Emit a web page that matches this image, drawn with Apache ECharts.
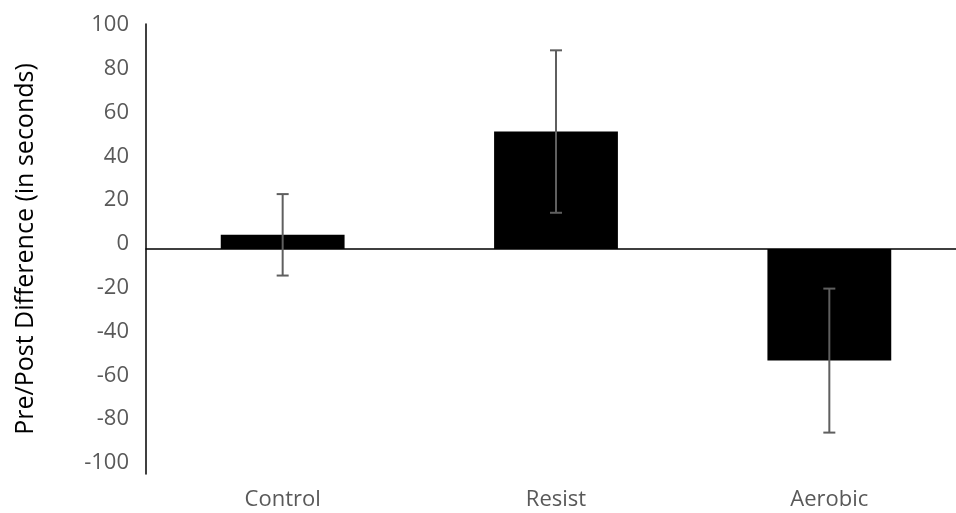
<!DOCTYPE html>
<html>
<head>
<meta charset="utf-8">
<script src="https://cdn.jsdelivr.net/npm/echarts@6/dist/echarts.min.js"></script>
<style>
  html, body { margin: 0; padding: 0; background: #fff; }
  #chart { width: 956px; height: 513px; }
</style>
</head>
<body>
<div id="chart"></div>
<script>
// Groups and their mean pre/post change (seconds) with error half-widths
const categories = ['Control', 'Resist', 'Aerobic'];
const meanDiff = [6.3, 52.2, -49.6];
const errorSize = [18.1, 36.1, 32.0];
const yTicks = { min: -100, max: 100, step: 20 };

const chart = echarts.init(document.getElementById('chart'));
const FONT = '"Open Sans"';

// Error bar endpoints derived from the means and half-widths
const errorData = categories.map((c, i) => [i, meanDiff[i] - errorSize[i], meanDiff[i] + errorSize[i]]);

chart.setOption({
  animation: false,
  grid: [
    // plot area (extends a little past the right edge)
    { left: 146, width: 820, top: 24, bottom: 39, containLabel: false, outerBoundsMode: 'none' },
    // tick-label column beside the value axis
    { left: 146, width: 820, top: 25, bottom: 50, containLabel: false, outerBoundsMode: 'none' }
  ],
  xAxis: [
    {
      type: 'category',
      gridIndex: 0,
      data: categories,
      position: 'bottom',
      axisLine: { show: false, onZero: false },
      axisTick: { show: false },
      axisLabel: { color: '#595959', fontSize: 22, fontFamily: FONT, margin: 15 }
    },
    {
      // zero baseline across the plot
      type: 'category',
      gridIndex: 0,
      data: categories,
      axisLine: { show: true, onZero: true, lineStyle: { color: '#000', width: 1.5 } },
      axisTick: { show: false },
      axisLabel: { show: false }
    },
    {
      type: 'category',
      gridIndex: 1,
      data: categories,
      show: false
    }
  ],
  yAxis: [
    {
      type: 'value',
      gridIndex: 0,
      min: yTicks.min,
      max: yTicks.max,
      interval: yTicks.step,
      name: 'Pre/Post Difference (in seconds)',
      nameLocation: 'middle',
      nameGap: 108,
      nameRotate: 90,
      nameTextStyle: { color: '#000', fontSize: 25, fontFamily: FONT },
      axisLine: { show: true, onZero: false, lineStyle: { color: '#000', width: 1.5 } },
      axisTick: { show: false },
      splitLine: { show: false },
      axisLabel: { show: false }
    },
    {
      type: 'value',
      gridIndex: 1,
      min: yTicks.min,
      max: yTicks.max,
      interval: yTicks.step,
      axisLine: { show: false },
      axisTick: { show: false },
      splitLine: { show: false },
      axisLabel: { color: '#595959', fontSize: 22, fontFamily: FONT, margin: 17 }
    }
  ],
  series: [
    {
      type: 'bar',
      xAxisIndex: 0,
      yAxisIndex: 0,
      data: meanDiff,
      barWidth: '45.3%',
      itemStyle: { color: '#000' },
      z: 2
    },
    {
      type: 'custom',
      xAxisIndex: 0,
      yAxisIndex: 0,
      data: errorData,
      z: 3,
      renderItem: function (params, api) {
        const x = api.value(0);
        const lo = api.coord([x, api.value(1)]);
        const hi = api.coord([x, api.value(2)]);
        const cap = 6;
        const style = { stroke: '#5f5f5f', lineWidth: 2 };
        return {
          type: 'group',
          children: [
            { type: 'line', shape: { x1: lo[0], y1: lo[1], x2: hi[0], y2: hi[1] }, style: style },
            { type: 'line', shape: { x1: lo[0] - cap, y1: lo[1], x2: lo[0] + cap, y2: lo[1] }, style: style },
            { type: 'line', shape: { x1: hi[0] - cap, y1: hi[1], x2: hi[0] + cap, y2: hi[1] }, style: style }
          ]
        };
      }
    }
  ]
});
</script>
</body>
</html>
